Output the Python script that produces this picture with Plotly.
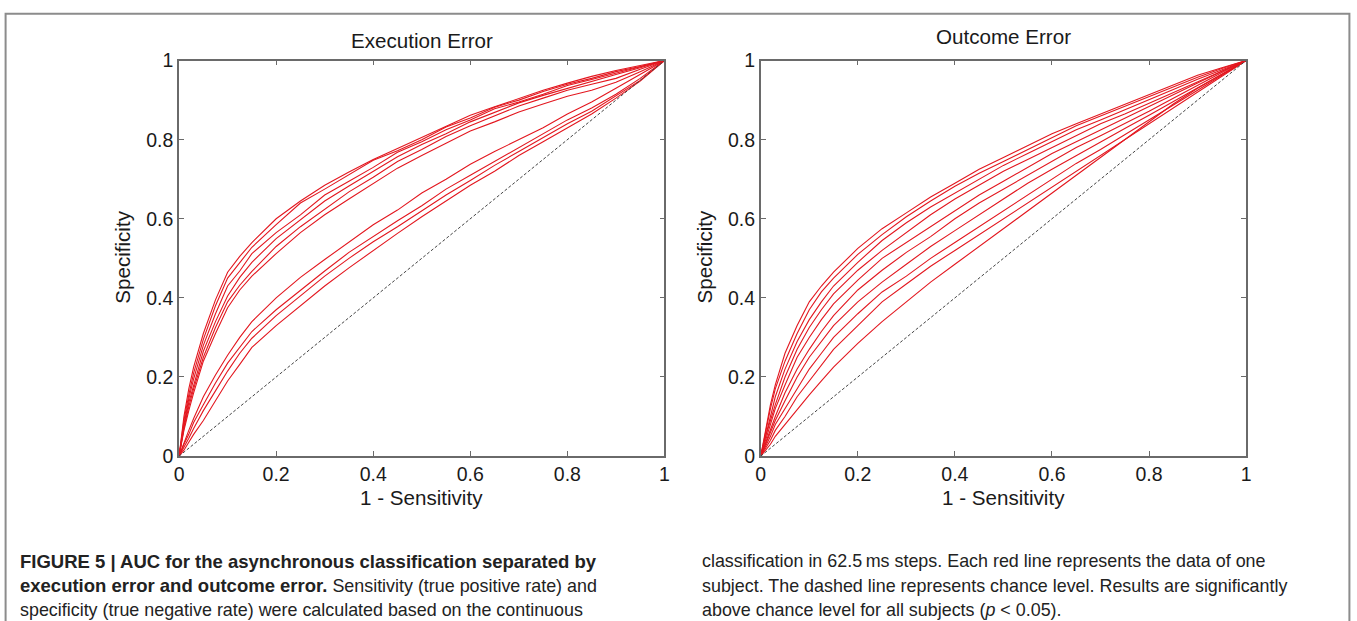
import plotly.graph_objects as go

# ---------------- data ----------------
fpr = [0, 0.01, 0.02, 0.03, 0.05, 0.075, 0.1, 0.125, 0.15, 0.2, 0.25, 0.3, 0.35,
       0.4, 0.45, 0.5, 0.55, 0.6, 0.65, 0.7, 0.75, 0.8, 0.85, 0.9, 0.95, 1.0]

execution_curves = [
    [0, 0.10, 0.17, 0.225, 0.31, 0.395, 0.465, 0.505, 0.54, 0.60, 0.645, 0.685, 0.718, 0.75, 0.778, 0.806, 0.835, 0.862, 0.883, 0.905, 0.925, 0.943, 0.96, 0.975, 0.988, 1],
    [0, 0.09, 0.155, 0.21, 0.295, 0.38, 0.45, 0.49, 0.528, 0.585, 0.64, 0.675, 0.712, 0.748, 0.772, 0.80, 0.832, 0.855, 0.882, 0.90, 0.922, 0.94, 0.955, 0.972, 0.985, 1],
    [0, 0.08, 0.145, 0.195, 0.28, 0.36, 0.43, 0.468, 0.512, 0.565, 0.61, 0.66, 0.695, 0.73, 0.768, 0.795, 0.825, 0.85, 0.878, 0.895, 0.915, 0.937, 0.952, 0.968, 0.984, 1],
    [0, 0.075, 0.135, 0.18, 0.265, 0.34, 0.405, 0.452, 0.49, 0.55, 0.598, 0.645, 0.683, 0.72, 0.757, 0.788, 0.815, 0.845, 0.87, 0.893, 0.912, 0.93, 0.948, 0.965, 0.982, 1],
    [0, 0.07, 0.125, 0.17, 0.25, 0.325, 0.39, 0.432, 0.467, 0.53, 0.58, 0.625, 0.668, 0.705, 0.745, 0.775, 0.808, 0.835, 0.86, 0.885, 0.905, 0.925, 0.94, 0.955, 0.978, 1],
    [0, 0.065, 0.115, 0.16, 0.24, 0.31, 0.375, 0.42, 0.455, 0.512, 0.565, 0.61, 0.65, 0.69, 0.728, 0.76, 0.79, 0.822, 0.845, 0.87, 0.89, 0.91, 0.925, 0.945, 0.972, 1],
    [0, 0.035, 0.065, 0.095, 0.15, 0.205, 0.255, 0.30, 0.34, 0.40, 0.452, 0.497, 0.54, 0.585, 0.622, 0.665, 0.70, 0.738, 0.77, 0.80, 0.83, 0.865, 0.895, 0.93, 0.965, 1],
    [0, 0.03, 0.055, 0.085, 0.13, 0.185, 0.235, 0.275, 0.315, 0.37, 0.42, 0.468, 0.515, 0.556, 0.595, 0.633, 0.675, 0.71, 0.745, 0.78, 0.815, 0.85, 0.88, 0.915, 0.955, 1],
    [0, 0.022, 0.045, 0.07, 0.115, 0.165, 0.215, 0.26, 0.298, 0.355, 0.405, 0.455, 0.50, 0.542, 0.58, 0.62, 0.66, 0.697, 0.735, 0.77, 0.805, 0.84, 0.872, 0.91, 0.95, 1],
    [0, 0.015, 0.035, 0.055, 0.09, 0.14, 0.19, 0.232, 0.275, 0.33, 0.38, 0.43, 0.476, 0.52, 0.563, 0.605, 0.645, 0.685, 0.72, 0.76, 0.795, 0.83, 0.865, 0.905, 0.948, 1],
]

outcome_curves = [
    [0, 0.07, 0.13, 0.18, 0.26, 0.33, 0.39, 0.43, 0.465, 0.525, 0.575, 0.615, 0.655, 0.69, 0.725, 0.755, 0.785, 0.815, 0.84, 0.865, 0.89, 0.915, 0.94, 0.963, 0.982, 1],
    [0, 0.06, 0.12, 0.17, 0.24, 0.31, 0.37, 0.415, 0.45, 0.51, 0.56, 0.605, 0.645, 0.682, 0.715, 0.745, 0.775, 0.805, 0.835, 0.86, 0.885, 0.91, 0.935, 0.958, 0.98, 1],
    [0, 0.05, 0.10, 0.15, 0.22, 0.29, 0.345, 0.39, 0.43, 0.49, 0.545, 0.59, 0.63, 0.665, 0.70, 0.735, 0.765, 0.795, 0.825, 0.85, 0.875, 0.9, 0.927, 0.953, 0.977, 1],
    [0, 0.05, 0.09, 0.13, 0.20, 0.27, 0.325, 0.37, 0.41, 0.47, 0.52, 0.565, 0.61, 0.65, 0.685, 0.72, 0.75, 0.78, 0.81, 0.84, 0.865, 0.892, 0.92, 0.948, 0.975, 1],
    [0, 0.04, 0.08, 0.12, 0.18, 0.25, 0.30, 0.345, 0.385, 0.445, 0.50, 0.54, 0.58, 0.62, 0.66, 0.695, 0.73, 0.765, 0.795, 0.825, 0.855, 0.885, 0.915, 0.945, 0.973, 1],
    [0, 0.035, 0.07, 0.10, 0.16, 0.22, 0.27, 0.315, 0.355, 0.42, 0.47, 0.515, 0.555, 0.60, 0.64, 0.675, 0.71, 0.745, 0.78, 0.81, 0.84, 0.872, 0.905, 0.938, 0.97, 1],
    [0, 0.03, 0.06, 0.09, 0.14, 0.20, 0.25, 0.29, 0.33, 0.39, 0.44, 0.485, 0.53, 0.57, 0.61, 0.65, 0.69, 0.725, 0.76, 0.795, 0.828, 0.862, 0.897, 0.932, 0.967, 1],
    [0, 0.025, 0.05, 0.08, 0.12, 0.17, 0.22, 0.26, 0.30, 0.36, 0.415, 0.455, 0.50, 0.54, 0.58, 0.62, 0.66, 0.70, 0.74, 0.775, 0.812, 0.85, 0.888, 0.925, 0.963, 1],
    [0, 0.02, 0.04, 0.065, 0.10, 0.15, 0.19, 0.23, 0.27, 0.33, 0.39, 0.435, 0.48, 0.52, 0.56, 0.60, 0.64, 0.68, 0.72, 0.76, 0.80, 0.84, 0.88, 0.92, 0.96, 1],
    [0, 0.015, 0.03, 0.05, 0.08, 0.12, 0.155, 0.19, 0.225, 0.285, 0.34, 0.39, 0.44, 0.485, 0.53, 0.575, 0.62, 0.665, 0.71, 0.755, 0.80, 0.845, 0.89, 0.93, 0.965, 1],
]

chance = [0, 1]
tick_vals = [0, 0.2, 0.4, 0.6, 0.8, 1]
tick_text = ["0", "0.2", "0.4", "0.6", "0.8", "1"]

panel_titles = ["Execution Error", "Outcome Error"]
x_title = "1 - Sensitivity"
y_title = "Specificity"

BOLD = '<span style="font-size:18.5px"><b>{}</b></span>'
caption_left = [
    BOLD.format("FIGURE 5 | AUC for the asynchronous classification separated by"),
    BOLD.format("execution error and outcome error.") + " Sensitivity (true positive rate) and",
    "specificity (true negative rate) were calculated based on the continuous",
]
caption_right = [
    "classification in 62.5\u2009ms steps. Each red line represents the data of one",
    "subject. The dashed line represents chance level. Results are significantly",
    "above chance level for all subjects (<i>p</i> &lt; 0.05).",
]

# ---------------- figure ----------------
# Placement helpers: target positions are given in screenshot pixels and
# converted for the page (8px body margin, capture resized to 1357x621).
OFF = 8
SX, SY = 1357 / 1371, 621 / 641
W, H = 1355, 633
FONT = "Liberation Sans, Arial, sans-serif"
RED = "#e3171f"
INK = "#1a1a1a"

def px(r):
    return (r / SX - OFF) / W

def py(r):
    return 1 - (r / SY - OFF) / H

fig = go.Figure()

for i, curves in enumerate([execution_curves, outcome_curves]):
    xa = "x" if i == 0 else "x2"
    ya = "y" if i == 0 else "y2"
    for c in curves:
        fig.add_trace(go.Scatter(x=fpr, y=c, mode="lines", xaxis=xa, yaxis=ya,
                                 line=dict(color=RED, width=1.1),
                                 showlegend=False, hoverinfo="skip"))
    fig.add_trace(go.Scatter(x=chance, y=chance, mode="lines", xaxis=xa, yaxis=ya,
                             line=dict(color="#444444", width=1, dash="3px,2px"),
                             showlegend=False, hoverinfo="skip"))

axis_common = dict(range=[0, 1], tickvals=tick_vals, ticktext=tick_text,
                   showline=True, linecolor="#6a6a6a", linewidth=1.6,
                   mirror="allticks", ticks="inside", ticklen=5, tickcolor="#6a6a6a",
                   showgrid=False, zeroline=False,
                   tickfont=dict(family=FONT, size=19.5, color=INK))

left_dom = [px(181.5), px(665.5)]
right_dom = [px(761.5), px(1245.5)]
y_dom = [py(454.5), py(57.5)]

fig.update_layout(
    width=W, height=H,
    margin=dict(l=0, r=0, t=0, b=0),
    paper_bgcolor="white", plot_bgcolor="white",
    xaxis=dict(domain=left_dom, anchor="y", **axis_common),
    yaxis=dict(domain=y_dom, anchor="x", **axis_common),
    xaxis2=dict(domain=right_dom, anchor="y2", **axis_common),
    yaxis2=dict(domain=y_dom, anchor="x2", **axis_common),
)

ann = []
for xl, xr, title, ty in [(181.5, 665.5, panel_titles[0], 37), (761.5, 1245.5, panel_titles[1], 33.5)]:
    cx = px((xl + xr) / 2)
    ann.append(dict(x=cx, y=py(ty), xref="paper", yref="paper", text=title,
                    showarrow=False, xanchor="center", yanchor="middle",
                    font=dict(family=FONT, size=20.6, color=INK)))
    ann.append(dict(x=cx, y=py(496), xref="paper", yref="paper", text=x_title,
                    showarrow=False, xanchor="center", yanchor="middle",
                    font=dict(family=FONT, size=20.6, color=INK)))
    ann.append(dict(x=px(xl - 56.5), y=py(255), xref="paper", yref="paper", text=y_title,
                    showarrow=False, xanchor="center", yanchor="middle", textangle=-90,
                    font=dict(family=FONT, size=20.6, color=INK)))

for col_x, lines in [(21, caption_left), (701, caption_right)]:
    for k, line in enumerate(lines):
        ann.append(dict(x=px(col_x), y=py(560 + 24.5 * k), xref="paper", yref="paper",
                        text=line, showarrow=False, xanchor="left", yanchor="middle",
                        font=dict(family=FONT, size=17.9, color="#222222")))

fig.update_layout(annotations=ann)

fig.add_shape(type="rect", xref="paper", yref="paper",
              x0=0.6 / W, x1=1 - 0.6 / W, y0=-0.1, y1=py(10.5),
              line=dict(color="#8c8c8c", width=2), fillcolor="rgba(0,0,0,0)", layer="below")

fig.write_html("out.html")
